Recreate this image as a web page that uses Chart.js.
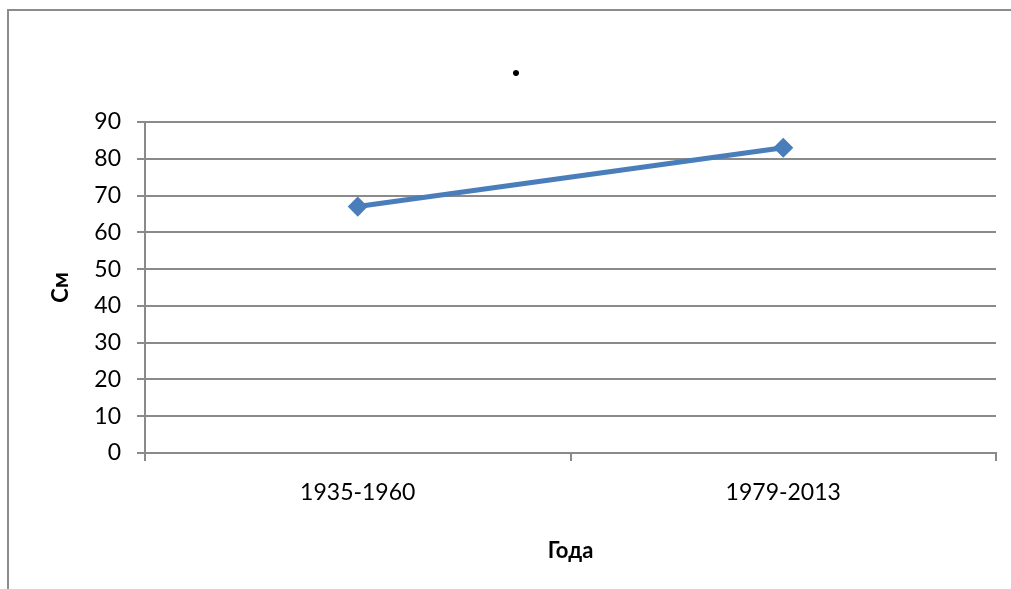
<!DOCTYPE html>
<html lang="ru">
<head>
<meta charset="utf-8">
<title>См по годам</title>
<script src="https://cdn.jsdelivr.net/npm/chart.js@4/dist/chart.umd.min.js"></script>
<style>
    html, body { margin: 0; padding: 0; background: #fff; }
    #wrap { width: 1011px; height: 589px; position: relative; }
</style>
</head>
<body>
<div id="wrap"><canvas id="chart" width="1011" height="589"></canvas></div>
<script>
// ========== Data ==========
const periods = ['1935-1960', '1979-2013'];
const values = [67, 83];
const yTicks = [0, 10, 20, 30, 40, 50, 60, 70, 80, 90];

const chartTitle = '.';
const xTitle = 'Года';
const yTitle = 'См';

const gridColor = '#8a8a8a';
const lineColor = '#4a7ebb';
const fontFamily = "Lato, 'Open Sans', sans-serif";

// outer frame of the chart object (only left and top edges are in view)
const framePlugin = {
    id: 'frame',
    beforeDraw(chart) {
        const ctx = chart.ctx;
        ctx.save();
        ctx.strokeStyle = '#8c8c8c';
        ctx.lineWidth = 2;
        ctx.beginPath();
        ctx.moveTo(8, chart.height);
        ctx.lineTo(8, 10);
        ctx.lineTo(chart.width, 10);
        ctx.stroke();
        ctx.restore();
    }
};

// ========== Chart ==========
document.addEventListener('DOMContentLoaded', () => {
    const ctx = document.getElementById('chart');

    new Chart(ctx, {
        type: 'line',
        data: {
            labels: periods,
            datasets: [{
                data: values,
                borderColor: lineColor,
                backgroundColor: lineColor,
                borderWidth: 5,
                pointStyle: 'rectRot',
                pointRadius: 9,
                pointBorderWidth: 1.5,
                pointBackgroundColor: lineColor,
                pointBorderColor: lineColor,
                tension: 0
            }]
        },
        options: {
            responsive: false,
            animation: false,
            // left padding keeps the title centred where the original has it
            layout: { padding: { top: 0, left: 36, right: 15, bottom: 0 } },
            plugins: {
                legend: { display: false },
                tooltip: { enabled: false },
                title: {
                    display: true,
                    text: chartTitle,
                    color: '#000',
                    font: { family: fontFamily, size: 40, weight: 'bold', lineHeight: 1.2 },
                    padding: { top: 38.7, bottom: 35.3 }
                }
            },
            scales: {
                x: {
                    type: 'category',
                    offset: true,
                    grid: {
                        offset: true,
                        drawOnChartArea: false,
                        drawTicks: true,
                        tickLength: 8,
                        color: gridColor,
                        lineWidth: 2
                    },
                    border: { display: true, color: gridColor, width: 2 },
                    ticks: {
                        color: '#000',
                        padding: 18,
                        font: { family: fontFamily, size: 23 }
                    },
                    title: {
                        display: true,
                        text: xTitle,
                        color: '#000',
                        font: { family: fontFamily, size: 22, weight: 'bold', lineHeight: 1.2 },
                        padding: { top: 0, bottom: 25 }
                    },
                    afterFit(scale) { scale.height = 136; }
                },
                y: {
                    min: yTicks[0],
                    max: yTicks[yTicks.length - 1],
                    afterBuildTicks(scale) {
                        scale.ticks = yTicks.map(v => ({ value: v }));
                    },
                    grid: {
                        color: gridColor,
                        lineWidth: 2,
                        drawTicks: true,
                        tickLength: 8
                    },
                    border: { display: true, color: gridColor, width: 2 },
                    ticks: {
                        color: '#000',
                        padding: 16,
                        font: { family: fontFamily, size: 23 }
                    },
                    title: {
                        display: true,
                        text: yTitle,
                        color: '#000',
                        font: { family: fontFamily, size: 22, weight: 'bold', lineHeight: 1.2 },
                        padding: { top: 12, bottom: 0 }
                    },
                    afterFit(scale) { scale.width = 109; }
                }
            }
        },
        plugins: [framePlugin]
    });
});
</script>
</body>
</html>
